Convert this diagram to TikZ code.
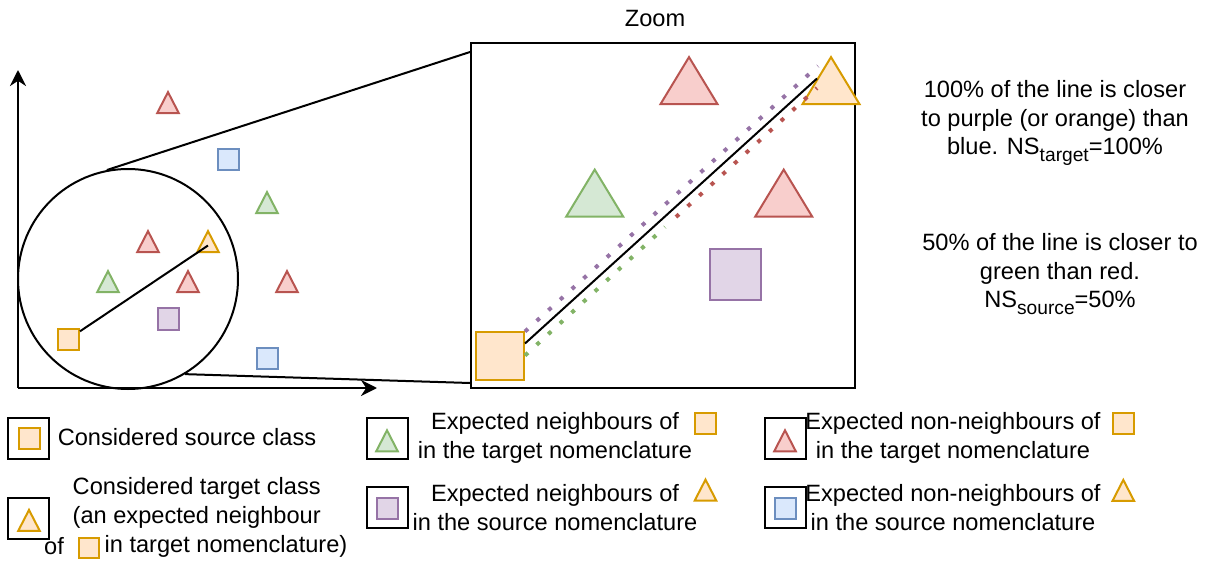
\documentclass[tikz,border=0pt]{standalone}
\usepackage{fontspec}
\setmainfont{Liberation Sans}
\usetikzlibrary{arrows.meta,shapes.geometric,calc}
\definecolor{orgfill}{HTML}{FFE6CC}
\definecolor{orgline}{HTML}{D79B00}
\definecolor{grnfill}{HTML}{D5E8D4}
\definecolor{grnline}{HTML}{82B366}
\definecolor{redfill}{HTML}{F8CECC}
\definecolor{redline}{HTML}{B85450}
\definecolor{blufill}{HTML}{DAE8FC}
\definecolor{bluline}{HTML}{6C8EBF}
\definecolor{purfill}{HTML}{E1D5E7}
\definecolor{purline}{HTML}{9673A6}
\newcommand{\lowsub}[1]{\raisebox{-0.28em}{\fontsize{9.6}{10}\selectfont #1}}

\begin{document}
\begin{tikzpicture}[x=0.5pt, y=-0.5pt, every node/.style={font=\fontsize{11.8}{14.2}\selectfont},
    sq/.style={draw, rectangle, inner sep=0pt, minimum size=10.5pt, line width=1pt},
    tri/.style={draw, isosceles triangle, isosceles triangle stretches, shape border rotate=90, inner sep=0pt, minimum width=10.8pt, minimum height=10.5pt, line width=1pt, anchor=apex},
    bigtri/.style={minimum width=28.5pt, minimum height=23.5pt},
    key/.style={draw, line width=1pt, minimum size=20.5pt, inner sep=0pt},
    srccol/.style={fill=orgfill, draw=orgline},
    nbcol/.style={fill=grnfill, draw=grnline},
    nncol/.style={fill=redfill, draw=redline},
    purcol/.style={fill=purfill, draw=purline},
    blucol/.style={fill=blufill, draw=bluline},
    dotline/.style={line width=2pt, dash pattern=on 2pt off 5.9pt}]
    \useasboundingbox (0,0) rectangle (1210,561);

    \coordinate (origin) at (18,388);
    \coordinate (ytip) at (18,70);
    \coordinate (xtip) at (377,388);
    \draw[line width=1.2pt, -{Stealth[length=8pt,width=8pt]}] (origin) -- (ytip);
    \draw[line width=1.2pt, -{Stealth[length=8pt,width=8pt]}] (origin) -- (xtip);

    \node[circle, draw, line width=1pt, minimum size=110pt, inner sep=0pt] (lens) at (128,279) {};
    \node[draw, line width=1pt, minimum width=192pt, minimum height=172.5pt, inner sep=0pt] (zoombox) at (663,215.5) {};
    \node (zoomlabel) at (655,19) {Zoom};
    \draw[line width=1pt] (lens.101) -- ([yshift=-5pt]zoombox.north west);
    \draw[line width=1pt] (lens.-59) -- ([yshift=3pt]zoombox.south west);

    \node[tri, nncol] (r1) at (168,89.5) {};
    \node[sq, blucol] (b1) at (228,160) {};
    \node[tri, nbcol] (g1) at (267,189.5) {};
    \node[tri, nncol] (r2) at (148,228.5) {};
    \node[tri, srccol] (tgt) at (208,228.5) {};
    \node[tri, nbcol] (g2) at (108,268.5) {};
    \node[tri, nncol] (r3) at (188,268.5) {};
    \node[tri, nncol] (r4) at (287,268.5) {};
    \node[sq, purcol] (p1) at (168,319) {};
    \node[sq, srccol] (src) at (68.5,339) {};
    \node[sq, blucol] (b2) at (267.5,358.5) {};
    \draw[line width=1pt] (src) -- (tgt.center);

    \node[tri, bigtri, nncol] (zr1) at (689,54.5) {};
    \node[tri, bigtri, nbcol] (zg) at (594.7,167) {};
    \node[tri, bigtri, nncol] (zr2) at (783.7,167) {};
    \node[sq, purcol, minimum size=25.5pt] (zp) at (735,274.3) {};
    \node[sq, srccol, minimum size=24pt] (zsrc) at (500,355.5) {};
    \coordinate (pend) at (818,66);
    \coordinate (gend) at (665,227);
    \coordinate (rbeg) at (676,217);
    \coordinate (rend) at (817,88);
    \draw[dotline, purline] ([yshift=12pt]zsrc.east) -- (pend);
    \node[tri, bigtri, srccol] (ztgt) at (831,54.5) {};
    \draw[dotline, grnline] (zsrc.east) -- (gend);
    \draw[dotline, redline] (rbeg) -- (rend);
    \coordinate (zend) at ($(ztgt.apex)+(-7pt,-12pt)$);
    \draw[line width=1pt] ([yshift=6pt]zsrc.east) -- (zend);

    \node[key] (k1) at (28.5,438) {};
    \node[sq, srccol] (k1i) at (29,438) {};
    \node (k1t) at (187,437) {Considered source class};
    \node[key] (k2) at (28.5,518) {};
    \node[tri, srccol] (k2i) at (29,507.3) {};
    \node[align=center] (k2t) at (196.7,503) {Considered target class\\(an expected neighbour};
    \node (k2of) at (54,546) {of};
    \node[sq, srccol, minimum size=10pt] (k2s) at (88.5,547.7) {};
    \node (k2n) at (226,546) {in target nomenclature)};

    \node[key] (k3) at (387,438) {};
    \node[tri, nbcol] (k3i) at (387,427.7) {};
    \node[align=center] (k3t) at (555,438) {Expected neighbours of\\in the target nomenclature};
    \node[sq, srccol] (k3s) at (705.5,423.7) {};
    \node[key] (k4) at (387,507.7) {};
    \node[sq, purcol] (k4i) at (387,508) {};
    \node[align=center] (k4t) at (555,507.7) {Expected neighbours of\\in the source nomenclature};
    \node[tri, srccol] (k4s) at (705.5,477) {};

    \node[key] (k5) at (785,438) {};
    \node[tri, nncol] (k5i) at (785,427.7) {};
    \node[align=center] (k5t) at (953,438) {Expected non-neighbours of\\in the target nomenclature};
    \node[sq, srccol] (k5s) at (1123.3,423.7) {};
    \node[key] (k6) at (785,507.7) {};
    \node[sq, blucol] (k6i) at (785,508) {};
    \node[align=center] (k6t) at (953,507.7) {Expected non-neighbours of\\in the source nomenclature};
    \node[tri, srccol] (k6s) at (1123.3,477.3) {};

    \node[align=center] (nstgt) at (1055,123) {100\% of the line is closer\\to purple (or orange) than\\blue. NS\lowsub{target}=100\%};
    \node[align=center] (nssrc) at (1060,274) {50\% of the line is closer to\\green than red.\\NS\lowsub{source}=50\%};
\end{tikzpicture}
\end{document}
